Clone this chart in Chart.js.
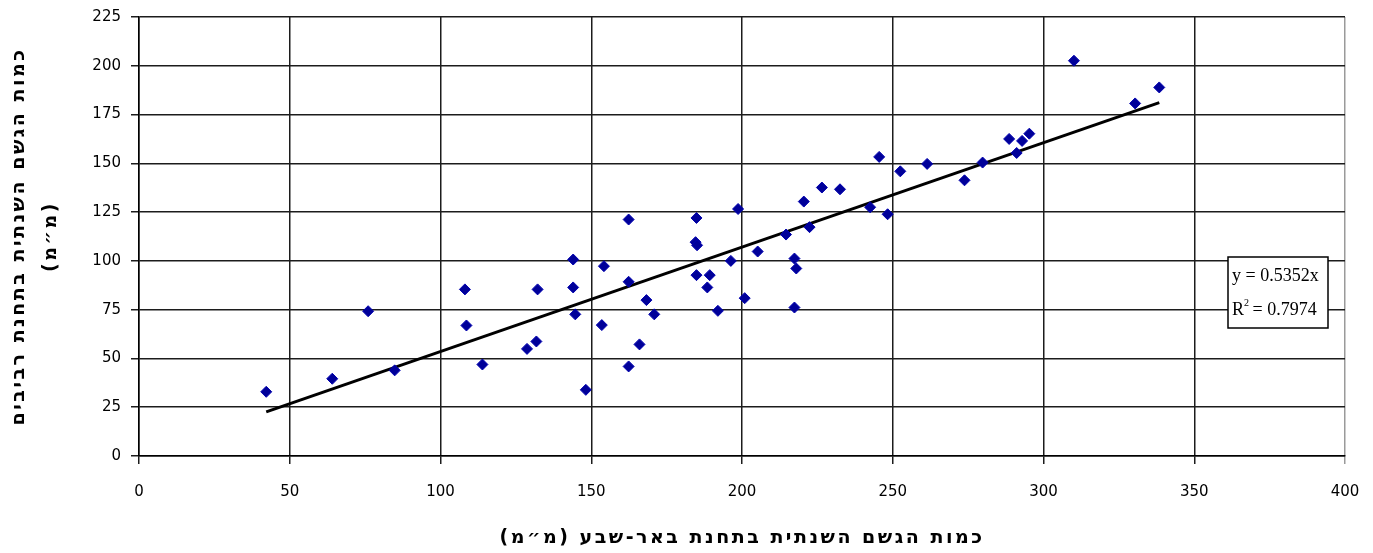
<!DOCTYPE html>
<html lang="he">
<head>
<meta charset="utf-8">
<script src="https://cdn.jsdelivr.net/npm/chart.js@4.4.1/dist/chart.umd.min.js"></script>
<style>
  html, body { margin: 0; padding: 0; background: #fff; }
  #wrap { width: 1373px; height: 553px; position: relative; }
</style>
</head>
<body>
<div id="wrap"><canvas id="c" width="1373" height="553"></canvas></div>
<script>
// Annual rainfall (mm): Be'er Sheva station (x) vs. Revivim station (y)
const beerShevaRain = [42.2, 64.1, 76.0, 84.8, 108.1, 108.6, 113.9, 128.7, 131.8, 132.2,
  144.0, 144.0, 144.7, 148.2, 153.5, 154.2, 162.4, 162.4, 162.4, 166.0,
  168.3, 170.9, 184.9, 184.6, 185.1, 184.9, 189.3, 188.5, 192.0, 196.3,
  198.7, 200.9, 205.2, 214.6, 217.4, 218.0, 217.4, 220.5, 222.4, 226.5,
  232.5, 242.5, 245.5, 248.3, 252.5, 261.4, 273.8, 279.8, 288.6, 291.1,
  292.9, 295.3, 310.1, 330.4, 338.4];
const revivimRain = [32.9, 39.6, 74.2, 43.9, 85.4, 66.9, 46.9, 54.9, 58.7, 85.4,
  100.7, 86.4, 72.6, 33.9, 67.1, 97.3, 121.2, 89.3, 45.9, 57.2,
  79.9, 72.6, 122.0, 109.6, 108.0, 92.7, 92.7, 86.4, 74.4, 100.0,
  126.6, 80.9, 104.8, 113.5, 101.2, 96.1, 76.1, 130.4, 117.3, 137.6,
  136.7, 127.5, 153.3, 123.9, 145.9, 149.7, 141.3, 150.4, 162.5, 155.3,
  161.5, 165.2, 202.6, 180.7, 188.9];

// Linear trend through the origin
const trendSlope = 0.5352;
const trendR2 = 0.7974;

const xTicks = [0, 50, 100, 150, 200, 250, 300, 350, 400];
const yTicks = [0, 25, 50, 75, 100, 125, 150, 175, 200, 225];

const xTitle = 'כמות הגשם השנתית בתחנת באר-שבע (מ״מ)';
const yTitle = ['כמות הגשם השנתית בתחנת רביבים', '(מ״מ)'];

const points = beerShevaRain.map((x, i) => ({ x, y: revivimRain[i] }));
const xMin = Math.min(...beerShevaRain);
const xMax = Math.max(...beerShevaRain);
const trend = [
  { x: xMin, y: trendSlope * xMin },
  { x: xMax, y: trendSlope * xMax }
];

const gridColor = '#1c1c1c';
const tickFont = { family: '"DejaVu Sans", sans-serif', size: 15 };
const titleFont = { family: '"DejaVu Sans", sans-serif', size: 19, weight: 'bold' };

// Box with the regression equation, placed near the right edge of the plot
const equationBox = {
  id: 'equationBox',
  afterDatasetsDraw(chart) {
    const { ctx, chartArea } = chart;
    const w = 100, h = 71;
    const left = chartArea.right - 117;
    const top = chartArea.top + 240;
    const serif = '"Liberation Serif", "Times New Roman", serif';
    ctx.save();
    ctx.fillStyle = '#fff';
    ctx.fillRect(left, top, w, h);
    ctx.strokeStyle = '#000';
    ctx.lineWidth = 1.5;
    ctx.strokeRect(left, top, w, h);
    ctx.fillStyle = '#000';
    ctx.font = '18px ' + serif;
    ctx.textAlign = 'left';
    ctx.textBaseline = 'middle';
    ctx.fillText('y = ' + trendSlope.toFixed(4) + 'x', left + 4, top + 19);
    ctx.fillText('R', left + 4, top + 53);
    const rw = ctx.measureText('R').width;
    ctx.font = '10px ' + serif;
    ctx.fillText('2', left + 4 + rw, top + 46);
    ctx.font = '18px ' + serif;
    ctx.fillText(' = ' + trendR2.toFixed(4), left + 8 + rw, top + 53);
    ctx.restore();
  }
};

// Axis titles are drawn with a little extra letter spacing
const spacedTitles = {
  id: 'spacedTitles',
  afterLayout(chart) {
    ['x', 'y'].forEach(id => {
      const s = chart.scales[id];
      if (!s || s._spacedTitle) return;
      const draw = s.drawTitle.bind(s);
      s.drawTitle = function () {
        const c = this.ctx;
        const prev = c.letterSpacing;
        c.letterSpacing = '2.5px';
        draw();
        c.letterSpacing = prev || '0px';
      };
      s._spacedTitle = true;
    });
  }
};

const edgeGrid = (ctx, max) => (ctx.tick && ctx.tick.value === max ? '#9a9a9a' : gridColor);

new Chart(document.getElementById('c'), {
  type: 'scatter',
  data: {
    datasets: [
      {
        type: 'line',
        data: trend,
        borderColor: '#000',
        borderWidth: 3,
        pointRadius: 0,
        fill: false,
        order: 2
      },
      {
        data: points,
        pointStyle: 'rectRot',
        pointRadius: 5.5,
        backgroundColor: '#000099',
        borderColor: '#0000b0',
        borderWidth: 1,
        order: 1
      }
    ]
  },
  options: {
    responsive: false,
    animation: false,
    events: [],
    layout: { padding: { left: 0, right: 28, top: 17, bottom: 0 } },
    plugins: {
      legend: { display: false },
      tooltip: { enabled: false }
    },
    scales: {
      x: {
        type: 'linear',
        min: 0,
        max: 400,
        afterBuildTicks(scale) { scale.ticks = xTicks.map(v => ({ value: v })); },
        afterFit(scale) {
          scale.height = 97;
          scale.paddingLeft = 0;
          scale.paddingRight = 0;
        },
        grid: {
          color: ctx => edgeGrid(ctx, 400),
          lineWidth: 1.5,
          tickLength: 8,
          tickColor: ctx => edgeGrid(ctx, 400)
        },
        border: { color: '#000', width: 1.5 },
        ticks: { color: '#000', font: tickFont, padding: 19, maxRotation: 0 },
        title: {
          display: true,
          text: xTitle,
          color: '#000',
          font: titleFont,
          padding: { top: 0, bottom: 4 }
        }
      },
      y: {
        type: 'linear',
        min: 0,
        max: 225,
        afterBuildTicks(scale) { scale.ticks = yTicks.map(v => ({ value: v })); },
        afterFit(scale) {
          scale.width = 139;
          scale.paddingTop = 0;
          scale.paddingBottom = 0;
        },
        grid: { color: gridColor, lineWidth: 1.5, tickLength: 8, tickColor: gridColor },
        border: { color: '#000', width: 1.5 },
        ticks: { color: '#000', font: tickFont, padding: 10 },
        title: {
          display: true,
          text: yTitle,
          color: '#000',
          font: Object.assign({}, titleFont, { lineHeight: 1.7 }),
          padding: { top: 3, bottom: 0 }
        }
      }
    }
  },
  plugins: [equationBox, spacedTitles]
});
</script>
</body>
</html>
